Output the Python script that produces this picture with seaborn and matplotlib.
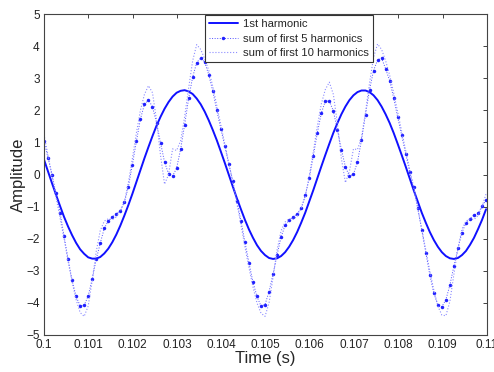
import numpy as np
import matplotlib
matplotlib.use("Agg")
import matplotlib.pyplot as plt
import seaborn as sns

# sample times: 11025 Hz sampling starting at t = 0.1 s
n_samples = 111
fs = 11025
time = 0.1 + np.arange(n_samples) / fs

first_harmonic = [
    0.47, 0.10, -0.27, -0.63, -0.98, -1.32, -1.62, -1.89, -2.13, -2.33,
    -2.47, -2.58, -2.62, -2.62, -2.57, -2.46, -2.31, -2.11, -1.87, -1.59,
    -1.28, -0.95, -0.60, -0.23, 0.14, 0.51, 0.86, 1.20, 1.52, 1.80,
    2.05, 2.26, 2.43, 2.55, 2.61, 2.63, 2.59, 2.51, 2.37, 2.19,
    1.96, 1.69, 1.39, 1.07, 0.72, 0.36, -0.01, -0.38, -0.74, -1.08,
    -1.41, -1.71, -1.97, -2.20, -2.38, -2.51, -2.60, -2.63, -2.61, -2.54,
    -2.42, -2.25, -2.04, -1.79, -1.50, -1.19, -0.84, -0.49, -0.12, 0.25,
    0.61, 0.96, 1.30, 1.60, 1.88, 2.12, 2.32, 2.47, 2.57, 2.62,
    2.62, 2.57, 2.47, 2.32, 2.12, 1.88, 1.61, 1.30, 0.96, 0.61,
    0.25, -0.12, -0.49, -0.84, -1.19, -1.50, -1.79, -2.04, -2.25, -2.42,
    -2.54, -2.61, -2.63, -2.60, -2.51, -2.38, -2.19, -1.97, -1.70, -1.41,
    -1.08,
]

sum_5 = [
    1.04, 0.53, 0.00, -0.59, -1.19, -1.92, -2.64, -3.30, -3.80, -4.09,
    -4.08, -3.78, -3.26, -2.64, -2.14, -1.68, -1.44, -1.32, -1.23, -1.14,
    -0.87, -0.38, 0.31, 1.04, 1.73, 2.19, 2.33, 2.11, 1.62, 0.99,
    0.39, 0.02, -0.05, 0.20, 0.79, 1.55, 2.38, 3.04, 3.49, 3.63,
    3.50, 3.11, 2.60, 2.00, 1.43, 0.88, 0.32, -0.21, -0.83, -1.44,
    -2.10, -2.75, -3.35, -3.80, -4.10, -4.05, -3.65, -3.10, -2.50, -1.95,
    -1.58, -1.42, -1.32, -1.22, -1.05, -0.65, -0.12, 0.57, 1.29, 1.91,
    2.29, 2.29, 1.98, 1.40, 0.78, 0.24, -0.05, 0.01, 0.39, 1.07,
    1.87, 2.64, 3.24, 3.57, 3.63, 3.30, 2.93, 2.39, 1.79, 1.22,
    0.65, 0.08, -0.40, -1.05, -1.73, -2.43, -3.13, -3.70, -4.06, -4.12,
    -3.90, -3.44, -2.85, -2.30, -1.81, -1.50, -1.37, -1.26, -1.21, -0.98,
    -0.80,
]

sum_10 = [
    1.25, 0.60, -0.05, -0.70, -1.35, -2.00, -2.70, -3.35, -3.90, -4.30,
    -4.42, -4.10, -3.30, -2.40, -1.75, -1.45, -1.38, -1.40, -1.32, -1.10,
    -0.85, -0.25, 0.50, 1.30, 2.00, 2.50, 2.77, 2.55, 1.70, 0.60,
    -0.30, 0.00, 0.80, 0.75, 1.05, 1.80, 2.70, 3.55, 4.05, 3.90,
    3.60, 3.25, 2.75, 2.15, 1.55, 0.95, 0.35, -0.25, -0.90, -1.55,
    -2.25, -2.90, -3.50, -4.00, -4.32, -4.42, -4.00, -3.20, -2.35, -1.75,
    -1.48, -1.38, -1.40, -1.30, -1.05, -0.70, -0.05, 0.70, 1.50, 2.20,
    2.65, 2.88, 2.50, 1.60, 0.50, -0.25, 0.10, 0.80, 0.78, 1.15,
    1.95, 2.85, 3.65, 4.07, 3.90, 3.55, 3.10, 2.55, 1.95, 1.35,
    0.75, 0.15, -0.40, -1.05, -1.70, -2.35, -3.00, -3.60, -4.10, -4.38,
    -4.40, -3.95, -3.10, -2.30, -1.70, -1.45, -1.38, -1.40, -1.28, -1.00,
    -0.60,
]

labels = ["1st harmonic", "sum of first 5 harmonics", "sum of first 10 harmonics"]
x_ticks = [0.1, 0.101, 0.102, 0.103, 0.104, 0.105, 0.106, 0.107, 0.108, 0.109, 0.11]
x_tick_labels = ["0.1", "0.101", "0.102", "0.103", "0.104", "0.105",
                 "0.106", "0.107", "0.108", "0.109", "0.11"]
y_ticks = [-5, -4, -3, -2, -1, 0, 1, 2, 3, 4, 5]

sns.set_style("white")
plt.rcParams["font.family"] = ["Liberation Sans", "DejaVu Sans"]

fig = plt.figure(figsize=(4.94, 3.72), dpi=100)
ax = fig.add_axes([0.089, 0.0995, 0.897, 0.8625])

sns.lineplot(x=time, y=first_harmonic, ax=ax, color="#1010ff", lw=1.4,
             label=labels[0])
sns.lineplot(x=time, y=sum_5, ax=ax, color="#5050ff", lw=0.7, linestyle=":",
             marker=".", markersize=5, markeredgewidth=0,
             markerfacecolor="#2020ff", label=labels[1])
sns.lineplot(x=time, y=sum_10, ax=ax, color="#8c8cff", lw=0.8, linestyle=":",
             label=labels[2])

ax.set_xlim(0.1, 0.11)
ax.set_ylim(-5, 5)
ax.set_xticks(x_ticks)
ax.set_xticklabels(x_tick_labels)
ax.set_yticks(y_ticks)
ax.tick_params(direction="in", length=3, width=0.6, labelsize=8.5,
               top=True, right=True, colors="#222222", pad=3)
for s in ax.spines.values():
    s.set_color("#444444")
    s.set_linewidth(0.8)

ax.set_xlabel("Time (s)", fontsize=12, labelpad=0)
ax.set_ylabel("Amplitude", fontsize=12, labelpad=0)

leg = ax.legend(loc="upper left", bbox_to_anchor=(0.36, 1.0), fontsize=8.1,
                frameon=True, fancybox=False, framealpha=1, edgecolor="#333333",
                borderaxespad=0.1, handlelength=2.6, labelspacing=0.4,
                borderpad=0.35, handletextpad=0.5)
leg.get_frame().set_linewidth(0.8)

fig.savefig("out.png", dpi=100)
